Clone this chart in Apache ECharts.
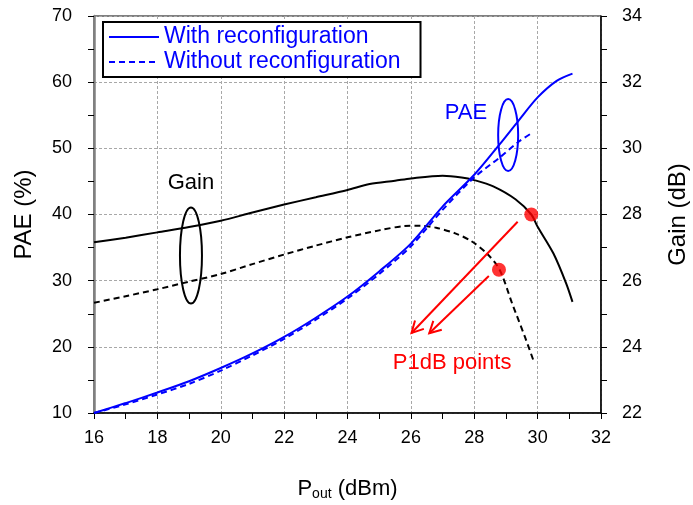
<!DOCTYPE html>
<html>
<head>
<meta charset="utf-8">
<script src="https://cdn.jsdelivr.net/npm/echarts@6/dist/echarts.min.js"></script>
<style>
  html, body { margin: 0; padding: 0; background: #fff; }
  #chart { width: 693px; height: 505px; }
</style>
</head>
<body>
<div id="chart"></div>
<script>
// PAE (%) vs Pout (dBm), left axis
var paeWithX = [16, 17, 18, 19, 20, 21, 22, 23, 24, 25, 26, 27, 28, 28.8, 29.4, 30, 30.6, 31.1];
var paeWithY = [10, 11.5, 13.1, 14.8, 16.8, 19.0, 21.5, 24.4, 27.6, 31.4, 35.6, 41.2, 46.0, 50.6, 54.2, 57.7, 60.2, 61.3];
var paeWithoutX = [16, 17, 18, 19, 20, 21, 22, 23, 24, 25, 26, 27, 28, 28.8, 29.4, 29.85];
var paeWithoutY = [10, 11.3, 12.8, 14.4, 16.4, 18.7, 21.2, 24.1, 27.3, 31.0, 35.2, 40.7, 45.6, 48.6, 51.0, 52.4];

// Gain (dB) vs Pout (dBm), right axis
var gainWithX = [16, 17, 18, 19, 20, 21, 22, 23, 24, 24.7, 25.5, 26, 27, 27.6, 28, 28.6, 29.3, 29.8, 30, 30.5, 30.9, 31.1];
var gainWithY = [27.16, 27.3, 27.46, 27.62, 27.81, 28.06, 28.3, 28.52, 28.74, 28.92, 29.02, 29.09, 29.17, 29.12, 29.04, 28.85, 28.46, 28.0, 27.63, 26.82, 25.92, 25.36];
var gainWithoutX = [16, 17, 18, 19, 20, 21, 22, 23, 24, 25, 25.8, 26.3, 26.8, 27.4, 27.9, 28.4, 28.8, 29.2, 29.6, 29.9];
var gainWithoutY = [25.33, 25.53, 25.74, 25.97, 26.2, 26.5, 26.79, 27.06, 27.31, 27.52, 27.65, 27.66, 27.6, 27.43, 27.2, 26.82, 26.33, 25.3, 24.3, 23.5];

// P1dB points (gain axis)
var p1dbX = [29.8, 28.78];
var p1dbY = [28.0, 26.33];

var legendNames = ['With reconfiguration', 'Without reconfiguration'];

function pairs(xs, ys) {
  return xs.map(function (x, i) { return [x, ys[i]]; });
}

var font = '"Liberation Sans", Arial, sans-serif';
var chart = echarts.init(document.getElementById('chart'));

chart.setOption({
  backgroundColor: '#fff',
  animation: false,
  textStyle: { fontFamily: font },
  grid: {
    left: 94, right: 92, top: 16, bottom: 92,
    outerBoundsMode: 'none',
    show: true, borderColor: '#000', borderWidth: 1
  },
  legend: {
    data: legendNames,
    orient: 'vertical',
    left: 103,
    top: 22,
    padding: [3, 20, 3, 5],
    itemWidth: 50,
    itemHeight: 14,
    itemGap: 1,
    borderColor: '#000',
    borderWidth: 2,
    backgroundColor: '#fff',
    itemStyle: { opacity: 0 },
    lineStyle: { width: 2 },
    textStyle: { color: '#0000ff', fontSize: 23, lineHeight: 24, fontFamily: font }
  },
  xAxis: {
    type: 'value',
    min: 16, max: 32, interval: 2,
    name: 'P{sub|out} (dBm)',
    nameLocation: 'middle',
    nameGap: 64,
    nameTextStyle: {
      color: '#000', fontSize: 22,
      rich: { sub: { fontSize: 14, verticalAlign: 'bottom', padding: [10, 0, 0, 0] } }
    },
    axisLine: { lineStyle: { color: '#000', width: 1.5 } },
    axisTick: { inside: false, length: 6, lineStyle: { color: '#000' } },
    minorTick: { show: true, splitNumber: 2, length: 6, lineStyle: { color: '#000' } },
    axisLabel: { color: '#000', fontSize: 18, margin: 16 },
    splitLine: { show: true, lineStyle: { color: '#a8a8a8', type: [3, 2] } }
  },
  yAxis: [{
    type: 'value',
    min: 10, max: 70, interval: 10,
    name: 'PAE (%)',
    nameLocation: 'middle',
    nameGap: 58,
    nameTextStyle: { color: '#000', fontSize: 24 },
    axisLine: { show: true, lineStyle: { color: '#808080', width: 2.5 } },
    axisTick: { show: true, length: 6, lineStyle: { color: '#000' } },
    minorTick: { show: true, splitNumber: 2, length: 6, lineStyle: { color: '#000' } },
    axisLabel: { color: '#000', fontSize: 18, margin: 22 },
    splitLine: { show: true, lineStyle: { color: '#a8a8a8', type: [3, 2] } }
  }, {
    type: 'value',
    position: 'right',
    min: 22, max: 34, interval: 2,
    name: 'Gain (dB)',
    nameLocation: 'middle',
    nameGap: 65,
    nameTextStyle: { color: '#000', fontSize: 24 },
    axisLine: { show: true, lineStyle: { color: '#000', width: 1.5 } },
    axisTick: { show: true, length: 6, lineStyle: { color: '#000' } },
    minorTick: { show: true, splitNumber: 2, length: 6, lineStyle: { color: '#000' } },
    axisLabel: { color: '#000', fontSize: 18, margin: 21 },
    splitLine: { show: false }
  }],
  series: [{
    name: 'With reconfiguration',
    type: 'line',
    yAxisIndex: 0,
    smooth: 0.3,
    symbol: 'none',
    lineStyle: { color: '#0000ff', width: 2 },
    itemStyle: { color: '#0000ff' },
    data: pairs(paeWithX, paeWithY),
    z: 4
  }, {
    name: 'Without reconfiguration',
    type: 'line',
    yAxisIndex: 0,
    smooth: 0.3,
    symbol: 'none',
    lineStyle: { color: '#0000ff', width: 2, type: [6, 4] },
    itemStyle: { color: '#0000ff' },
    data: pairs(paeWithoutX, paeWithoutY),
    z: 4
  }, {
    name: 'Gain with',
    type: 'line',
    yAxisIndex: 1,
    smooth: 0.3,
    symbol: 'none',
    lineStyle: { color: '#000', width: 2 },
    data: pairs(gainWithX, gainWithY),
    z: 3
  }, {
    name: 'Gain without',
    type: 'line',
    yAxisIndex: 1,
    smooth: 0.3,
    symbol: 'none',
    lineStyle: { color: '#000', width: 2, type: [6, 4] },
    data: pairs(gainWithoutX, gainWithoutY),
    z: 3
  }, {
    name: 'P1dB',
    type: 'scatter',
    yAxisIndex: 1,
    symbolSize: 14,
    itemStyle: { color: '#ff0000' },
    data: pairs(p1dbX, p1dbY),
    z: 6
  }]
});

// annotations: arrows to the P1dB text, ellipses and labels (gain axis for arrows)
var arrows = [
  { from: [29.37, 27.78], to: [26.02, 24.42] },
  { from: [28.46, 26.14], to: [26.58, 24.41] }
];
var graphics = [];
arrows.forEach(function (a) {
  var s = chart.convertToPixel({ xAxisIndex: 0, yAxisIndex: 1 }, a.from);
  var e = chart.convertToPixel({ xAxisIndex: 0, yAxisIndex: 1 }, a.to);
  var dx = e[0] - s[0], dy = e[1] - s[1];
  var len = Math.sqrt(dx * dx + dy * dy);
  var ux = dx / len, uy = dy / len;
  var L = 13, ang = 28 * Math.PI / 180;
  function wing(sign) {
    var c = Math.cos(sign * ang), sn = Math.sin(sign * ang);
    var rx = ux * c - uy * sn, ry = ux * sn + uy * c;
    return [e[0] - L * rx, e[1] - L * ry];
  }
  graphics.push({ type: 'line', shape: { x1: s[0], y1: s[1], x2: e[0], y2: e[1] }, style: { stroke: '#ff0000', lineWidth: 2 }, z: 10 });
  graphics.push({ type: 'polyline', shape: { points: [wing(1), e, wing(-1)] }, style: { stroke: '#ff0000', lineWidth: 2, fill: null }, z: 10 });
});

var gainEll = chart.convertToPixel({ xAxisIndex: 0, yAxisIndex: 0 }, [19.06, 33.8]);
var paeEll = chart.convertToPixel({ xAxisIndex: 0, yAxisIndex: 0 }, [29.07, 52]);
graphics.push({ type: 'ellipse', shape: { cx: gainEll[0], cy: gainEll[1], rx: 11, ry: 48 }, style: { stroke: '#000', lineWidth: 2, fill: null }, z: 10 });
graphics.push({ type: 'ellipse', shape: { cx: paeEll[0], cy: paeEll[1], rx: 10, ry: 36 }, style: { stroke: '#0000ff', lineWidth: 2, fill: null }, z: 10 });

var labels = [
  { text: 'Gain', at: [19.06, 44.7], color: '#000' },
  { text: 'PAE', at: [27.74, 55.3], color: '#0000ff' },
  { text: 'P1dB points', at: [27.3, 17.55], color: '#ff0000' }
];
labels.forEach(function (l) {
  var p = chart.convertToPixel({ xAxisIndex: 0, yAxisIndex: 0 }, l.at);
  graphics.push({
    type: 'text', x: p[0], y: p[1], z: 10,
    style: { text: l.text, fill: l.color, font: '22px ' + font, align: 'center', verticalAlign: 'middle', backgroundColor: null }
  });
});

chart.setOption({ graphic: graphics });
</script>
</body>
</html>
